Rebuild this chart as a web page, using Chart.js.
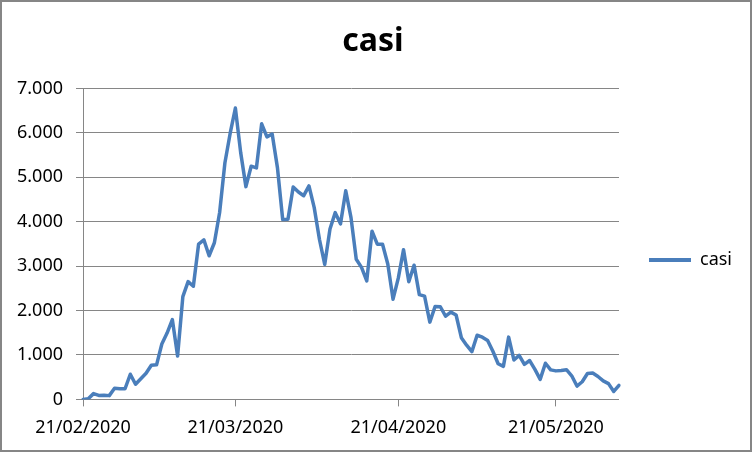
<!DOCTYPE html>
<html>
<head>
<meta charset="utf-8">
<script src="https://cdn.jsdelivr.net/npm/chart.js@4/dist/chart.umd.min.js"></script>
<style>
  body { margin: 0; background: #fff; }
  #box { width: 748px; height: 448px; border: 2px solid #868686; position: relative; }
</style>
</head>
<body>
<div id="box"><canvas id="canvas"></canvas></div>
<script>
// nuovi casi giornalieri, un array per mese
const feb = [0, 15, 130, 90, 95, 85, 250, 238, 240];   // dal 21/02
const mar = [566, 342, 466, 587, 769, 778, 1247, 1492, 1797, 977, 2313, 2651, 2547, 3497, 3590, 3233,
  3526, 4207, 5322, 5986, 6557, 5560, 4789, 5249, 5210, 6203, 5909, 5974, 5217, 4050, 4053];
const apr = [4782, 4668, 4585, 4805, 4316, 3599, 3039, 3836, 4204, 3951, 4694, 4092, 3153, 2972, 2667,
  3786, 3493, 3491, 3047, 2256, 2729, 3370, 2646, 3021, 2357, 2324, 1739, 2091, 2086, 1872];
const may = [1965, 1900, 1389, 1221, 1075, 1444, 1401, 1327, 1083, 802, 744, 1402, 888, 992, 789, 875,
  675, 451, 813, 665, 642, 652, 669, 531, 300, 397, 584, 593, 516, 416, 355];
const jun = [178, 318];

const seriesName = 'casi';
const yTicks = [0, 1000, 2000, 3000, 4000, 5000, 6000, 7000];

// etichette dd/mm/2020 per ogni giorno
let dates = [];
let casi = [];
function addMonth(mm, firstDay, values) {
  for (let i = 0; i < values.length; i++) {
    let d = String(firstDay + i).padStart(2, '0');
    dates.push(d + '/' + mm + '/2020');
    casi.push(values[i]);
  }
}
addMonth('02', 21, feb);
addMonth('03', 1, mar);
addMonth('04', 1, apr);
addMonth('05', 1, may);
addMonth('06', 1, jun);

const grey = '#868686';
const blue = '#4a7ebb';
const font = { family: '"Noto Sans", sans-serif', size: 18 };

function fmt(v) {
  return String(v).replace(/\B(?=(\d{3})+(?!\d))/g, '.');
}

let ctx = document.getElementById('canvas').getContext('2d');
let chart = new Chart(ctx, {
  type: 'line',
  data: {
    labels: dates,
    datasets: [{
      label: seriesName,
      data: casi,
      borderColor: blue,
      backgroundColor: blue,
      borderWidth: 3.5,
      pointRadius: 0,
      tension: 0,
      borderJoinStyle: 'round',
      borderCapStyle: 'round'
    }]
  },
  options: {
    responsive: true,
    maintainAspectRatio: false,
    devicePixelRatio: 1,
    animation: false,
    layout: { padding: { left: 2, right: 8, top: 0, bottom: 0 } },
    plugins: {
      title: {
        display: true,
        text: seriesName,
        color: '#000',
        font: { family: '"Noto Sans", sans-serif', size: 32, weight: 'bold' },
        padding: { top: 21, bottom: 27 }
      },
      legend: {
        position: 'right',
        title: { display: true, text: '', padding: { top: 0, bottom: 56 }, font: { size: 10 } }, // spinge la voce un po' in basso
        labels: {
          color: '#000',
          font: font,
          boxWidth: 42,
          boxHeight: 4,
          padding: 30,
          generateLabels: c => Chart.defaults.plugins.legend.labels.generateLabels(c).map(l => ({ ...l, lineWidth: 0 }))
        }
      },
      tooltip: { enabled: false }
    },
    scales: {
      x: {
        type: 'category',
        offset: false,
        grid: { drawOnChartArea: false, drawTicks: true, tickLength: 7, color: grey },
        border: { color: grey, width: 1 },
        afterBuildTicks: scale => {
          scale.ticks = scale.ticks.filter(t => dates[t.value].startsWith('21/'));
        },
        ticks: { autoSkip: false, maxRotation: 0, color: '#000', font: font, padding: 11 }
      },
      y: {
        min: 0,
        max: 7000,
        afterBuildTicks: scale => {
          scale.ticks = yTicks.map(v => ({ value: v }));
        },
        grid: { color: grey, tickLength: 7, lineWidth: 1 },
        border: { color: grey, width: 1 },
        ticks: { color: '#000', font: font, padding: 13, callback: v => fmt(v) }
      }
    }
  }
});
</script>
</body>
</html>
